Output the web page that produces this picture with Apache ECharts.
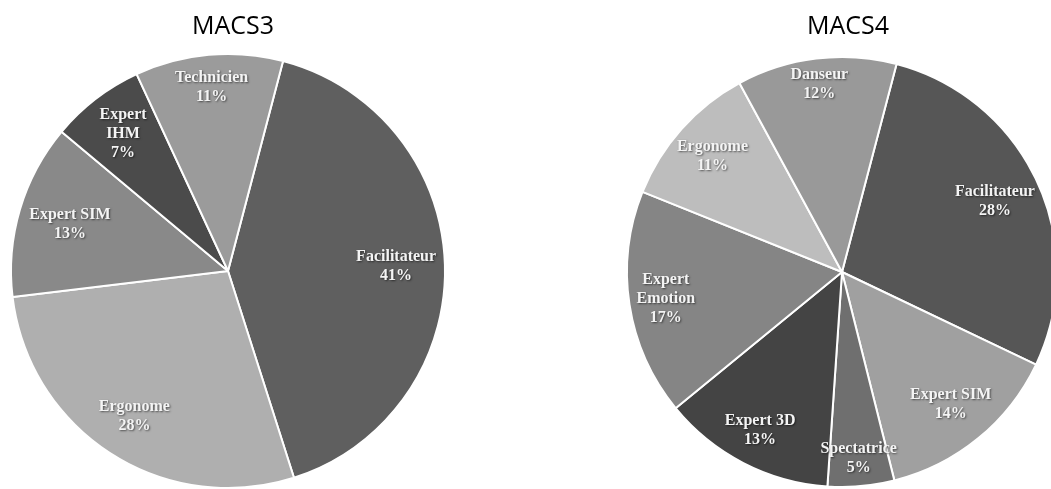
<!DOCTYPE html>
<html>
<head>
<meta charset="utf-8">
<script src="https://cdn.jsdelivr.net/npm/echarts@6/dist/echarts.min.js"></script>
<style>
html,body{margin:0;padding:0;background:#fff;}
#c{width:1051px;height:489px;}
</style>
</head>
<body>
<div id="c"></div>
<script>
const macs3Names = ['Facilitateur', 'Ergonome', 'Expert SIM', 'Expert\nIHM', 'Technicien'];
const macs3Values = [41, 28, 13, 7, 11];
const macs3Colors = ['#5f5f5f', '#afafaf', '#898989', '#4b4b4b', '#9b9b9b'];

const macs4Names = ['Facilitateur', 'Expert SIM', 'Spectatrice', 'Expert 3D', 'Expert\nEmotion', 'Ergonome', 'Danseur'];
const macs4Values = [28, 14, 5, 13, 17, 11, 12];
const macs4Colors = ['#565656', '#a0a0a0', '#6f6f6f', '#444444', '#858585', '#bdbdbd', '#999999'];

const chart = echarts.init(document.getElementById('c'));

// "best fit" style: push each label outward along its mid-angle until its
// farthest corner sits at a fraction k of the radius
function makePie(names, values, colors, center, radius, k) {
  return {
    type: 'pie',
    center: center,
    radius: [0, radius],
    startAngle: 75.3,
    clockwise: true,
    silent: true,
    animation: false,
    data: names.map((n, i) => ({ name: n, value: values[i], itemStyle: { color: colors[i] } })),
    itemStyle: { borderColor: '#ffffff', borderWidth: 2 },
    label: {
      show: true,
      position: 'inside',
      formatter: p => p.name + '\n' + p.value + '%',
      fontFamily: 'Liberation Serif',
      fontWeight: 'bold',
      fontSize: 16,
      lineHeight: 19,
      color: '#f4f4f4',
      align: 'center',
      textShadowColor: 'rgba(0,0,0,0.55)',
      textShadowBlur: 2,
      textShadowOffsetX: 1,
      textShadowOffsetY: 1
    },
    labelLine: { show: false },
    labelLayout: function (params) {
      const r = params.labelRect;
      const cx = center[0], cy = center[1];
      const mx = r.x + r.width / 2 - cx, my = r.y + r.height / 2 - cy;
      const len = Math.sqrt(mx * mx + my * my) || 1;
      const ux = mx / len, uy = my / len;
      const a = Math.sign(ux) * r.width / 2, b = Math.sign(uy) * r.height / 2;
      const p = ux * a + uy * b;
      const q = a * a + b * b - (k * radius) * (k * radius);
      const d = -p + Math.sqrt(p * p - q);
      return { x: cx + ux * d, y: cy + uy * d, align: 'center', verticalAlign: 'middle' };
    }
  };
}

chart.setOption({
  animation: false,
  title: [
    { text: 'MACS3', left: 228, top: 9, textAlign: 'center',
      textStyle: { fontFamily: 'Open Sans', fontWeight: 'normal', fontSize: 25, color: '#000' } },
    { text: 'MACS4', left: 843, top: 9, textAlign: 'center',
      textStyle: { fontFamily: 'Open Sans', fontWeight: 'normal', fontSize: 25, color: '#000' } }
  ],
  series: [
    makePie(macs3Names, macs3Values, macs3Colors, [228, 271], 217, 0.965),
    makePie(macs4Names, macs4Values, macs4Colors, [842, 272], 215, 0.99)
  ]
});
</script>
</body>
</html>
